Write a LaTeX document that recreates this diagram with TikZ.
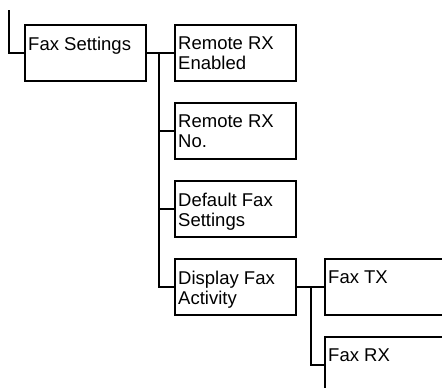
\documentclass[tikz,border=0pt]{standalone}
\usepackage{fontspec}
\setmainfont{Liberation Sans}
\usetikzlibrary{positioning}

\tikzset{
  menubox/.style={draw, line width=2pt, minimum width=121pt, minimum height=56pt,
    inner sep=0pt, outer sep=0pt, anchor=north west},
  menutext/.style={anchor=north west, align=left, inner sep=0pt,
    font=\fontsize{18.5}{20}\selectfont},
  branch/.style={line width=2pt}
}

\begin{document}
\begin{tikzpicture}[x=1pt, y=-1pt]
    \useasboundingbox (0,0) rectangle (442,388);
    \clip (0,0) rectangle (442,388);

    % boxes
    \node[menubox] (fax) at (25,25) {};
    \node[menubox, right=29pt of fax] (rxen) {};
    \node[menubox, below=22pt of rxen] (rxno) {};
    \node[menubox, below=22pt of rxno] (deffax) {};
    \node[menubox, below=22pt of deffax] (disp) {};
    \node[menubox, right=29pt of disp] (faxtx) {};
    \node[menubox, below=22pt of faxtx] (faxrx) {};

    % labels
    \node[menutext] (faxlbl) at ([shift={(3pt,-12pt)}]fax.north west) {Fax Settings};
    \node[menutext] (rxenlbl) at ([shift={(3pt,-12pt)}]rxen.north west) {Remote RX\\Enabled};
    \node[menutext] (rxnolbl) at ([shift={(3pt,-12pt)}]rxno.north west) {Remote RX\\No.};
    \node[menutext] (deffaxlbl) at ([shift={(3pt,-12pt)}]deffax.north west) {Default Fax\\Settings};
    \node[menutext] (displbl) at ([shift={(3pt,-12pt)}]disp.north west) {Display Fax\\Activity};
    \node[menutext] (faxtxlbl) at ([shift={(3pt,-12pt)}]faxtx.north west) {Fax TX};
    \node[menutext] (faxrxlbl) at ([shift={(3pt,-12pt)}]faxrx.north west) {Fax RX};

    % connectors
    \coordinate (lead) at (9,10);
    \coordinate (trunk1) at ([xshift=13pt]fax.east);
    \coordinate (trunk2) at ([xshift=15pt]disp.east);
    \draw[branch] (lead) |- (fax.west);
    \draw[branch] (fax.east) -- (rxen.west);
    \foreach \c in {rxno,deffax,disp}
        \draw[branch] (trunk1) |- (\c.west);
    \draw[branch] (disp.east) -- (faxtx.west);
    \draw[branch] (trunk2) |- (faxrx.west);
\end{tikzpicture}
\end{document}
